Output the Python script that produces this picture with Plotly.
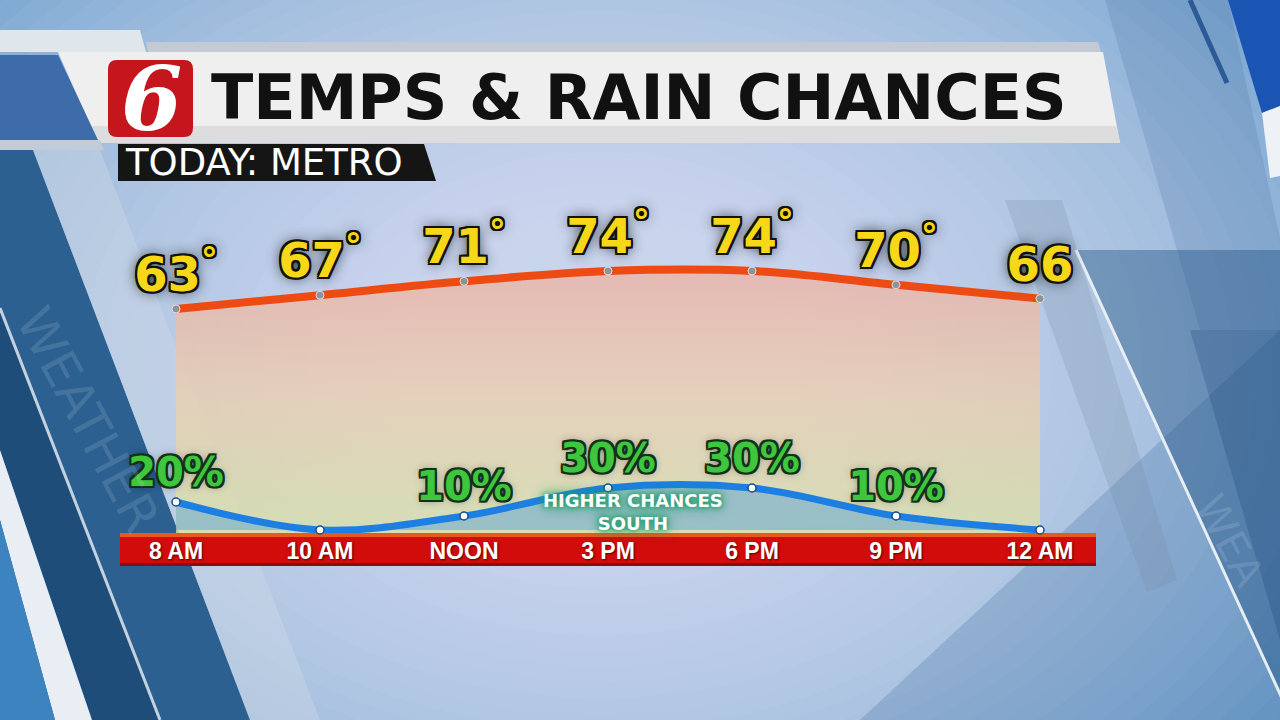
import plotly.graph_objects as go

W, H = 1280, 720

# ---------------- data ----------------
hours = ["8 AM", "10 AM", "NOON", "3 PM", "6 PM", "9 PM", "12 AM"]
temps = [63, 67, 71, 74, 74, 70, 66]
temp_labels = ["63°", "67°", "71°", "74°", "74°", "70°", "66"]
rain = [20, 0, 10, 30, 30, 10, 0]
rain_labels = ["20%", "", "10%", "30%", "30%", "10%", ""]

title = "TEMPS & RAIN CHANCES"
subtitle = "TODAY: METRO"
note_lines = ["HIGHER CHANCES", "SOUTH"]


# ---------------- helpers (pixel -> paper) ----------------
def px(x):
    return x / W


def py(y):
    return 1 - y / H


shapes = []


def path_poly(pts):
    return "M " + " L ".join(f"{px(x):.5f},{py(y):.5f}" for x, y in pts) + " Z"


def poly(pts, fill, opacity=1.0):
    shapes.append(dict(type="path", path=path_poly(pts), xref="paper", yref="paper",
                       fillcolor=fill, opacity=opacity, line=dict(width=0), layer="below"))


def seg(p1, p2, color, width, opacity=1.0):
    shapes.append(dict(type="line", xref="paper", yref="paper",
                       x0=px(p1[0]), y0=py(p1[1]), x1=px(p2[0]), y1=py(p2[1]),
                       line=dict(color=color, width=width), opacity=opacity, layer="below"))


def rect(x0, y0, x1, y1, fill, opacity=1.0):
    shapes.append(dict(type="rect", xref="paper", yref="paper",
                       x0=px(x0), x1=px(x1), y0=py(y1), y1=py(y0),
                       fillcolor=fill, opacity=opacity, line=dict(width=0), layer="below"))


# ---------------- axis calibration ----------------
X_FIRST, X_STEP = 176, 144
PLOT_BOTTOM = 533
xr = [-X_FIRST / X_STEP, (W - X_FIRST) / X_STEP]

kT = (309 - 271) / (74 - 63)
t0 = 63 - (PLOT_BOTTOM - 309) / kT
t1 = t0 + PLOT_BOTTOM / kT

kR = (530 - 488) / 30
r0 = -(PLOT_BOTTOM - 530) / kR
r1 = r0 + PLOT_BOTTOM / kR

# ---------------- background ----------------
N_RING = 30
for i in range(N_RING):
    f = 1 - i / N_RING
    rx, ry = 180 + 680 * f, 140 + 470 * f
    cx, cy = 600, 370
    shapes.append(dict(type="circle", xref="paper", yref="paper",
                       x0=px(cx - rx), x1=px(cx + rx), y0=py(cy + ry), y1=py(cy - ry),
                       fillcolor="#e6eef6", opacity=0.05, line=dict(width=0), layer="below"))

# bottom-right darkening
poly([(860, 720), (1280, 720), (1280, 330)], "rgba(40,95,150,0.22)")

# left decorative panels
poly([(0, 150), (33, 150), (250, 720), (0, 720)], "#2b6090")
poly([(33, 150), (100, 150), (320, 720), (250, 720)], "rgba(205,215,228,0.45)")
poly([(0, 308), (160, 720), (92, 720), (0, 450)], "#1f4d7a")
poly([(0, 450), (92, 720), (55, 720), (0, 520)], "#e8eef3")
poly([(0, 520), (55, 720), (0, 720)], "#3d83c0")
seg((0, 308), (160, 720), "rgba(225,232,240,0.85)", 3)

# right decorative panels
poly([(1105, 0), (1228, 0), (1300, 330), (1200, 330)], "rgba(60,100,150,0.18)")
poly([(1005, 200), (1062, 200), (1177, 580), (1147, 592)], "rgba(120,140,165,0.25)")
poly([(1076, 250), (1280, 250), (1280, 693)], "rgba(30,80,130,0.42)")
poly([(1190, 330), (1280, 330), (1280, 640)], "rgba(25,65,115,0.25)")
seg((1076, 250), (1292, 720), "#e6edf3", 3)
poly([(1228, 0), (1280, 0), (1280, 106), (1262, 113)], "#1b55b3")
poly([(1262, 113), (1280, 106), (1280, 176), (1270, 178)], "#eef2f6")
seg((1190, 0), (1227, 83), "#2c5a96", 5)

# title bar
poly([(0, 30), (140, 30), (146, 52), (0, 52)], "#dfe6ec")
poly([(146, 42), (1098, 42), (1101, 52), (148, 52)], "#c3cad3")
poly([(58, 52), (1103, 52), (1120, 143), (98, 143)], "#efefef")
poly([(92, 126), (1116, 126), (1120, 143), (98, 143)], "#dddddd")
poly([(0, 55), (58, 55), (98, 140), (0, 140)], "#3e6cab")
poly([(0, 140), (100, 140), (104, 150), (0, 150)], "#c2ccd8")
poly([(118, 144), (424, 144), (436, 181), (118, 181)], "#151515")

# logo box (rounded)
lx0, lx1, ly0, ly1, rr = 108, 193, 60, 137, 9
logo_path = (f"M {px(lx0 + rr)},{py(ly0)} L {px(lx1 - rr)},{py(ly0)} "
             f"Q {px(lx1)},{py(ly0)} {px(lx1)},{py(ly0 + rr)} L {px(lx1)},{py(ly1 - rr)} "
             f"Q {px(lx1)},{py(ly1)} {px(lx1 - rr)},{py(ly1)} L {px(lx0 + rr)},{py(ly1)} "
             f"Q {px(lx0)},{py(ly1)} {px(lx0)},{py(ly1 - rr)} L {px(lx0)},{py(ly0 + rr)} "
             f"Q {px(lx0)},{py(ly0)} {px(lx0 + rr)},{py(ly0)} Z")
shapes.append(dict(type="path", path=logo_path, xref="paper", yref="paper",
                   fillcolor="#c4161c", line=dict(width=0), layer="below"))

# red time bar
rect(120, 535, 1096, 565, "#d20b0b")
rect(120, 533, 1096, 537, "#e65a1e")
rect(120, 563, 1096, 566, "#8c0b0b")

# ---------------- traces ----------------
fig = go.Figure()

fig.add_trace(go.Scatter(x=hours, y=[t0] * len(hours), mode="lines", line=dict(width=0),
                         hoverinfo="skip", showlegend=False))
fig.add_trace(go.Scatter(
    x=hours, y=temps, mode="lines", line=dict(width=0, shape="spline"),
    fill="tonexty",
    fillgradient=dict(type="vertical", start=t0, stop=75,
                      colorscale=[[0, "rgba(218,226,166,0.78)"],
                                  [0.5, "rgba(238,208,172,0.75)"],
                                  [1, "rgba(236,178,166,0.8)"]]),
    hoverinfo="skip", showlegend=False))

temp_text = [t.replace("°", "<sup>°</sup>") for t in temp_labels]
label_shadow = ("2px 2px 0 #111, -2px -2px 0 #111, 2px -2px 0 #111, -2px 2px 0 #111, "
                "0 2px 0 #111, 0 -2px 0 #111, 2px 0 0 #111, -2px 0 0 #111, 0 0 14px rgba(0,0,0,0.85)")
fig.add_trace(go.Scatter(
    x=hours, y=temps, mode="lines+markers+text",
    line=dict(color="#ee4b14", width=8, shape="spline"),
    marker=dict(size=8, color="#8e9398", line=dict(color="#e0e0e0", width=1)),
    text=temp_text, textposition="top center",
    textfont=dict(family="DejaVu Sans", size=48, color="#f6d818", weight="bold", shadow=label_shadow),
    cliponaxis=False, hoverinfo="skip", showlegend=False))

rain_shadow = ("2px 2px 0 #14301a, -2px -2px 0 #14301a, 2px -2px 0 #14301a, -2px 2px 0 #14301a, "
               "0 2px 0 #14301a, 0 -2px 0 #14301a, 2px 0 0 #14301a, -2px 0 0 #14301a, 0 0 8px rgba(0,0,0,0.5)")
fig.add_trace(go.Scatter(
    x=hours, y=rain, yaxis="y2", mode="lines+markers+text",
    fill="tozeroy", fillcolor="rgba(70,150,225,0.42)",
    line=dict(color="#1e7fe3", width=7, shape="spline"),
    marker=dict(size=8, color="white", line=dict(color="#164a8a", width=1.5)),
    text=rain_labels, textposition="top center",
    textfont=dict(family="DejaVu Sans", size=40, color="#3ec63c", weight="bold", shadow=rain_shadow),
    cliponaxis=False, hoverinfo="skip", showlegend=False))

# ---------------- annotations ----------------
ann = []
ann.append(dict(text=title, x=px(639), y=py(98), xref="paper", yref="paper", showarrow=False,
                xanchor="center", yanchor="middle",
                font=dict(family="DejaVu Sans", size=62, color="#111111", weight="bold")))
ann.append(dict(text=subtitle, x=px(264), y=py(163), xref="paper", yref="paper", showarrow=False,
                xanchor="center", yanchor="middle",
                font=dict(family="DejaVu Sans", size=37, color="white")))
ann.append(dict(text="6", x=px(151), y=py(99), xref="paper", yref="paper", showarrow=False,
                xanchor="center", yanchor="middle", height=80, valign="middle",
                font=dict(family="DejaVu Serif", size=88, color="white", weight="bold", style="italic")))
note_shadow = "0 0 5px #1c9a6a, 0 0 9px #1c9a6a, 0 0 14px rgba(40,170,110,0.9)"
ann.append(dict(text="<br>".join(note_lines), x=px(633), y=py(512), xref="paper", yref="paper",
                showarrow=False, xanchor="center", yanchor="middle",
                font=dict(family="DejaVu Sans", size=18, color="white", weight="bold",
                          shadow=note_shadow)))
ann.append(dict(text="WEATHER", x=px(88), y=py(420), xref="paper", yref="paper", showarrow=False,
                xanchor="center", yanchor="middle", textangle=62,
                font=dict(family="DejaVu Sans", size=50, color="rgba(255,255,255,0.12)")))
ann.append(dict(text="WEA", x=px(1230), y=py(540), xref="paper", yref="paper", showarrow=False,
                xanchor="center", yanchor="middle", textangle=62,
                font=dict(family="DejaVu Sans", size=42, color="rgba(255,255,255,0.12)")))

fig.update_layout(
    width=W, height=H, margin=dict(l=0, r=0, t=0, b=0),
    paper_bgcolor="#6c9fcb", plot_bgcolor="rgba(0,0,0,0)",
    showlegend=False, shapes=shapes, annotations=ann,
    xaxis=dict(range=xr, domain=[0, 1], anchor="free", position=py(535),
               showgrid=False, zeroline=False, showline=False, ticks="",
               categoryorder="array", categoryarray=hours,
               tickfont=dict(family="Liberation Sans", size=23, color="white", weight="bold",
                             shadow="1px 1px 2px rgba(0,0,0,0.6)")),
    yaxis=dict(domain=[py(PLOT_BOTTOM), 1], range=[t0, t1], visible=False),
    yaxis2=dict(overlaying="y", range=[r0, r1], visible=False),
)

fig.write_html("out.html", config={"displayModeBar": False},
               post_script="document.body.style.margin='0';document.body.style.overflow='hidden';")
